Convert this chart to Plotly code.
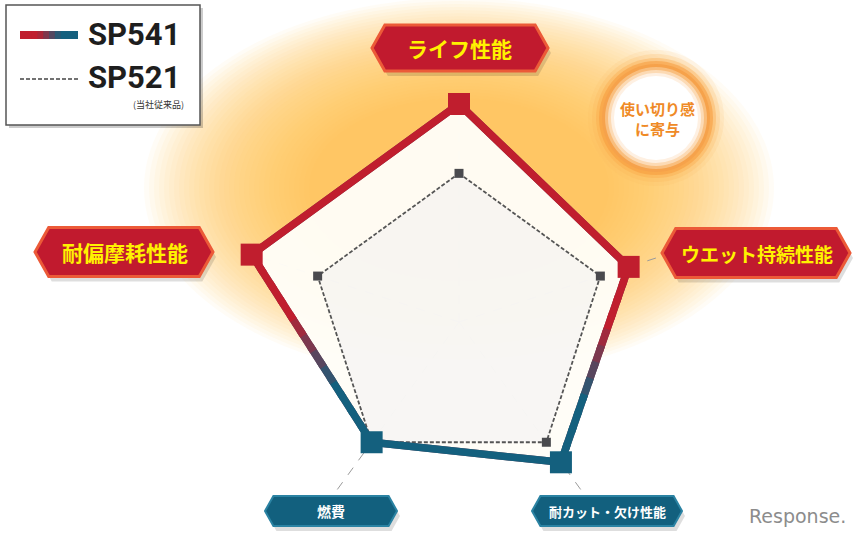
import math
import plotly.graph_objects as go

# ---------------- data ----------------
categories = ["ライフ性能", "ウエット持続性能", "耐カット・欠け性能", "燃費", "耐偏摩耗性能"]
sp541 = [4.4, 3.6, 3.5, 3.0, 4.4]
sp521 = [3.0, 3.0, 3.0, 3.0, 3.0]
series_names = ["SP541", "SP521"]
legend_note = "(当社従来品)"
callout_text = "使い切り感<br>に寄与"
watermark = "Response."

# ---------------- style ----------------
W, H = 866, 540
RED = (192, 30, 46)
BLUE = (20, 96, 126)
GRAY = "#555555"
CX, CY, R = 459, 322, 218          # polar centre / radius in px
RMAX = 4.4
angles = [i * 360 / len(categories) for i in range(len(categories))]
vertex_tone = [0, 0, 1, 1, 0]       # 0 = red end, 1 = blue end of the outline gradient
JP = "Noto Sans CJK JP"


def px(x):
    return x / W


def py(y):
    return 1 - y / H


def rgb(c):
    return "rgb(%d,%d,%d)" % tuple(int(round(v)) for v in c)


def mix(a, b, t):
    return tuple(a[i] + (b[i] - a[i]) * t for i in range(3))


def to_xy(r, th):
    t = math.radians(th)
    return r * math.sin(t), r * math.cos(t)


def to_polar(x, y):
    return math.hypot(x, y), math.degrees(math.atan2(x, y)) % 360


fig = go.Figure()

# --- fills ---
fig.add_trace(go.Scatterpolar(
    r=sp541 + sp541[:1], theta=angles + angles[:1], mode="lines",
    fill="toself", fillcolor="rgba(255,253,247,0.97)", line=dict(width=0),
    hoverinfo="skip", showlegend=False))
fig.add_trace(go.Scatterpolar(
    r=sp521 + sp521[:1], theta=angles + angles[:1], mode="lines",
    fill="toself", fillcolor="rgba(232,232,238,0.3)", line=dict(width=0),
    hoverinfo="skip", showlegend=False))

# --- SP521 dashed ---
fig.add_trace(go.Scatterpolar(
    r=sp521 + sp521[:1], theta=angles + angles[:1], mode="lines",
    line=dict(color=GRAY, width=1.8, dash="4px,2px"),
    hoverinfo="skip", showlegend=False, name=series_names[1]))
fig.add_trace(go.Scatterpolar(
    r=sp521, theta=angles, mode="markers",
    marker=dict(symbol="square", size=9, color="#4a4a4e"),
    name=series_names[1], showlegend=False, cliponaxis=False))

# --- SP541 outline: base line, then red->blue gradient pieces on top ---
fig.add_trace(go.Scatterpolar(
    r=sp541 + sp541[:1], theta=angles + angles[:1], mode="lines",
    line=dict(color=rgb(mix(RED, BLUE, 0.5)), width=7.5),
    hoverinfo="skip", showlegend=False))
n = len(categories)
for i in range(n):
    j = (i + 1) % n
    ax, ay = to_xy(sp541[i], angles[i])
    bx, by = to_xy(sp541[j], angles[j])
    ca = RED if vertex_tone[i] == 0 else BLUE
    cb = RED if vertex_tone[j] == 0 else BLUE
    steps = 1 if ca == cb else 12
    for k in range(steps):
        t0 = max(0.0, k / steps - 0.015)
        t1 = min(1.0, (k + 1) / steps + 0.015)
        p0 = to_polar(ax + (bx - ax) * t0, ay + (by - ay) * t0)
        p1 = to_polar(ax + (bx - ax) * t1, ay + (by - ay) * t1)
        tm = (k + 0.5) / steps
        g = min(1, max(0, (tm - 0.3) / 0.4))
        col = mix(ca, cb, g) if steps > 1 else ca
        fig.add_trace(go.Scatterpolar(
            r=[p0[0], p1[0]], theta=[p0[1], p1[1]], mode="lines",
            line=dict(color=rgb(col), width=7.5),
            hoverinfo="skip", showlegend=False))

fig.add_trace(go.Scatterpolar(
    r=sp541, theta=angles, mode="markers",
    marker=dict(symbol="square", size=22,
                color=[rgb(RED) if v == 0 else rgb(BLUE) for v in vertex_tone]),
    name=series_names[0], showlegend=False, cliponaxis=False))

# ---------------- shapes ----------------
shapes = []

# glow halo (upper part), many faint layers for a soft edge
gx, gy = 459, 188
nl = 34
for k in range(nl):
    f = k / (nl - 1)
    rx = 315 - 165 * f
    ry = 190 - 100 * f
    shapes.append(dict(type="circle", xref="paper", yref="paper", layer="below",
                       x0=px(gx - rx), x1=px(gx + rx), y0=py(gy + ry), y1=py(gy - ry),
                       fillcolor="rgba(250,188,80,0.05)", line=dict(width=0)))


def banner(cx, cy, w, h, fill, border, bw):
    d = h * 0.28
    pts = [(cx - w / 2, cy), (cx - w / 2 + d, cy - h / 2), (cx + w / 2 - d, cy - h / 2),
           (cx + w / 2, cy), (cx + w / 2 - d, cy + h / 2), (cx - w / 2 + d, cy + h / 2)]
    out = []
    sh = "M" + " L".join("%f,%f" % (px(x + 3), py(y + 5)) for x, y in pts) + " Z"
    out.append(dict(type="path", xref="paper", yref="paper", path=sh,
                    fillcolor="rgba(0,0,0,0.13)", line=dict(width=0)))
    p = "M" + " L".join("%f,%f" % (px(x), py(y)) for x, y in pts) + " Z"
    out.append(dict(type="path", xref="paper", yref="paper", path=p,
                    fillcolor=fill, line=dict(color=border, width=bw)))
    return out


# banner boxes in category order: top, right, bottom-right, bottom-left, left
banner_specs = [
    (460, 48, 176, 46, "#c11a2e", "#ec5a38", 3),
    (756, 253, 188, 49, "#c11a2e", "#ec5a38", 3),
    (607, 511, 150, 30, "#12607e", "#2b83a3", 2),
    (331, 511, 132, 30, "#12607e", "#2b83a3", 2),
    (124, 252, 178, 49, "#c11a2e", "#ec5a38", 3),
]
for spec in banner_specs:
    shapes += banner(*spec)

# callout circle
ccx, ccy = 656, 118
for rr, col in [(68, "rgba(250,180,90,0.12)"), (64, "rgba(250,175,80,0.2)"),
                (60, "rgba(248,165,70,0.35)"), (57, "rgba(246,155,60,0.55)"),
                (54, "rgb(246,162,75)"), (51, "rgb(249,190,125)"),
                (48, "rgb(252,218,180)"), (45, "rgb(254,240,226)"), (42, "white")]:
    shapes.append(dict(type="circle", xref="paper", yref="paper",
                       x0=px(ccx - rr), x1=px(ccx + rr), y0=py(ccy + rr), y1=py(ccy - rr),
                       fillcolor=col, line=dict(width=0)))

# legend box
shapes.append(dict(type="rect", xref="paper", yref="paper",
                   x0=px(9), x1=px(203), y0=py(128), y1=py(8),
                   fillcolor="rgba(0,0,0,0.2)", line=dict(width=0)))
shapes.append(dict(type="rect", xref="paper", yref="paper",
                   x0=px(6), x1=px(200), y0=py(125), y1=py(5),
                   fillcolor="white", line=dict(color="#555555", width=1.5)))
segs = 10
for k in range(segs):
    x0 = 20 + 58 * k / segs
    x1 = 20 + 58 * (k + 1) / segs
    g = min(1, max(0, ((k + 0.5) / segs - 0.3) / 0.4))
    shapes.append(dict(type="rect", xref="paper", yref="paper",
                       x0=px(x0), x1=px(min(78, x1 + 1)), y0=py(39), y1=py(31),
                       fillcolor=rgb(mix(RED, BLUE, g)), line=dict(width=0)))
shapes.append(dict(type="line", xref="paper", yref="paper",
                   x0=px(20), x1=px(78), y0=py(79), y1=py(79),
                   line=dict(color="#444", width=1.5, dash="4px,2px")))

# ---------------- annotations ----------------
ann = []
# label positions in category order: top, right, bottom-right, bottom-left, left
label_pos = [(460, 48, 21, "#fff200"), (757, 253, 19, "#fff200"),
             (607, 511, 13, "white"), (331, 511, 14, "white"), (125, 252, 21, "#fff200")]
for cat, (x, y, s, c) in zip(categories, label_pos):
    ann.append(dict(x=px(x), y=py(y), xref="paper", yref="paper", text="<b>%s</b>" % cat,
                    showarrow=False, font=dict(family=JP, size=s, color=c),
                    xanchor="center", yanchor="middle"))

ann.append(dict(x=px(657), y=py(118), xref="paper", yref="paper", text="<b>%s</b>" % callout_text,
                showarrow=False, font=dict(family=JP, size=15, color="#ef8a26"),
                xanchor="center", yanchor="middle", align="center"))
ann.append(dict(x=px(86), y=py(35), xref="paper", yref="paper", text="<b>%s</b>" % series_names[0],
                showarrow=False, font=dict(family="Roboto", size=31, color="#1e1e1e"),
                xanchor="left", yanchor="middle"))
ann.append(dict(x=px(86), y=py(78), xref="paper", yref="paper", text="<b>%s</b>" % series_names[1],
                showarrow=False, font=dict(family="Roboto", size=31, color="#1e1e1e"),
                xanchor="left", yanchor="middle"))
ann.append(dict(x=px(186), y=py(104), xref="paper", yref="paper", text=legend_note,
                showarrow=False, font=dict(family=JP, size=9, color="#333"),
                xanchor="right", yanchor="middle"))
ann.append(dict(x=px(797), y=py(516), xref="paper", yref="paper", text=watermark,
                showarrow=False, font=dict(family="DejaVu Sans", size=19, color="#8c8c8c"),
                xanchor="center", yanchor="middle"))

fig.update_layout(
    width=W, height=H,
    margin=dict(l=0, r=0, t=0, b=0),
    paper_bgcolor="white",
    showlegend=False,
    shapes=shapes,
    annotations=ann,
    polar=dict(
        domain=dict(x=[px(CX - R), px(CX + R)], y=[py(CY + R), py(CY - R)]),
        bgcolor="rgba(0,0,0,0)",
        radialaxis=dict(visible=False, range=[0, RMAX], showgrid=False),
        angularaxis=dict(rotation=90, direction="clockwise", tickmode="array",
                         tickvals=angles, showticklabels=False, ticks="",
                         showline=False, showgrid=True, gridcolor="#9a9a9a",
                         griddash="dash", gridwidth=1.2),
    ),
)

fig.write_html("out.html", config={"displayModeBar": False},
               post_script="document.body.style.margin='0';document.body.style.overflow='hidden';")
